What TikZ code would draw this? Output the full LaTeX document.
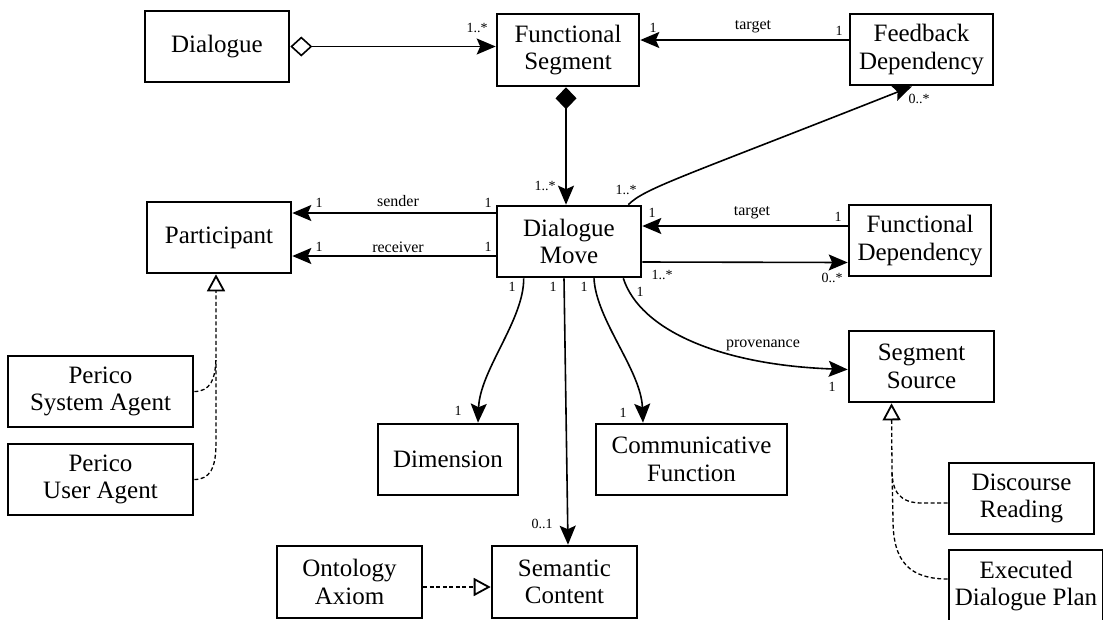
\documentclass[tikz,border=0pt]{standalone}
\usepackage{fontspec}
\setmainfont{Liberation Serif}
\usetikzlibrary{arrows.meta,calc}

\newcommand*\clsfont{\fontsize{25}{27.5}\selectfont}
\newcommand*\rolefont{\fontsize{16}{17}\selectfont}
\newcommand*\multfont{\fontsize{14}{15}\selectfont}

\tikzset{
  cls/.style={draw, line width=2.6pt, fill=white, inner sep=0pt, align=center,
    font=\clsfont, minimum width=144pt, minimum height=71pt},
  tip/.style={-{Stealth[length=19pt,width=16pt,inset=3.5pt]}},
  assoc/.style={line width=1.6pt, tip},
  gen/.style={line width=1.3pt, dash pattern=on 4pt off 2.5pt},
  genhead/.style={gen, -{Triangle[open,length=17pt,width=18pt,line width=1.8pt]}},
  role/.style={font=\rolefont, inner sep=0pt},
  mult/.style={font=\multfont, inner sep=0pt},
}

\begin{document}
\begin{tikzpicture}[x=1pt,y=-1pt]
\useasboundingbox (0,0) rectangle (1103,619);

% classes
\node[cls] (Dia) at (217,46.5) {Dialogue};
\node[cls, minimum width=142pt, minimum height=72pt] (FS) at (568,50) {Functional\\Segment};
\node[cls, minimum width=143pt] (FB) at (921.5,49.5) {Feedback\\Dependency};
\node[cls] (Pa) at (219,237.5) {Participant};
\node[cls] (DM) at (569,241.5) {Dialogue\\Move};
\node[cls, minimum width=142pt] (FD) at (920,240.5) {Functional\\Dependency};
\node[cls, minimum width=145pt] (SS) at (921.5,366.5) {Segment\\Source};
\node[cls, minimum width=145pt] (DR) at (1021.5,498.5) {Discourse\\Reading};
\node[cls, minimum width=154pt, minimum height=72pt] (EP) at (1026,586) {Executed\\Dialogue Plan};
\node[cls, minimum width=185pt] (PSA) at (100.5,391.5) {Perico\\System Agent};
\node[cls, minimum width=185pt] (PUA) at (100.5,479.5) {Perico\\User Agent};
\node[cls, minimum width=140pt] (Dim) at (448,459.5) {Dimension};
\node[cls, minimum width=191pt] (CF) at (691.5,459.5) {Communicative\\Function};
\node[cls, minimum width=145pt, minimum height=72pt] (OA) at (349.5,582) {Ontology\\Axiom};
\node[cls, minimum width=145pt, minimum height=72pt] (SC) at (564.5,582) {Semantic\\Content};

% aggregation and composition
\draw[line width=1.6pt, {Diamond[open,length=22pt,width=20pt,line width=1.6pt]}-{Stealth[length=19pt,width=16pt,inset=3.5pt]}]
  (Dia.east) -- (Dia.east -| FS.west);
\draw[line width=1.6pt, {Diamond[length=22pt,width=21pt]}-{Stealth[length=19pt,width=16pt,inset=3.5pt]}]
  ([xshift=-2pt]FS.south) -- ([xshift=-2pt]FS.south |- DM.north);

% associations
\draw[assoc] ([yshift=9.5pt]FB.west) -- ([yshift=9.5pt]FB.west -| FS.east);
\draw[assoc] ([xshift=-14pt]DM.north east) .. controls (645,188) and (680,178) .. ([xshift=-9.5pt]FB.south);
\draw[assoc] ([yshift=28.5pt]DM.west) -- ([yshift=28.5pt]DM.west -| Pa.east);
\draw[assoc] ([yshift=-14.5pt]DM.west) -- ([yshift=-14.5pt]DM.west -| Pa.east);
\draw[assoc] ([yshift=14.5pt]FD.west) -- ([yshift=14.5pt]FD.west -| DM.east);
\draw[assoc] ([yshift=-20.5pt]DM.east) -- ([yshift=-22pt]FD.west);
\draw[assoc] ([xshift=28pt]DM.south west) .. controls (524,320) and (480,370) .. ([xshift=30pt]Dim.north);
\draw[assoc] ([xshift=-5pt]DM.south) -- ([xshift=3.5pt]SC.north);
\draw[assoc] ([xshift=25pt]DM.south) .. controls (596,320) and (641,370) .. ([xshift=-48.5pt]CF.north);
\draw[assoc] ([xshift=-19pt]DM.south east) .. controls (640,330) and (720,365) .. ([yshift=-3pt]SS.west);

% generalisations
\coordinate (pgen) at ([xshift=-3pt]Pa.south);
\draw[genhead] (PSA.east) .. controls (210,391.5) and (216,380) .. (216,355) -- (pgen);
\draw[gen] (PUA.east) .. controls (210,479.5) and (216,468) .. (216,443) -- (216,360);
\coordinate (sgen) at ([xshift=-30pt]SS.south);
\draw[genhead] ([yshift=-4.5pt]DR.west) -- (922,503) .. controls (900,503) and (892,492) .. (892,470) -- (sgen);
\draw[gen] (EP.west |- 0,579) .. controls (910,579) and (893,562) .. (893,520) -- (892,470);
\draw[genhead] ([yshift=-5pt]OA.east) -- ([yshift=-5pt]SC.west);

% role names
\node[role] (r1) at (753,27) {target};
\node[role] (r2) at (398,201) {sender};
\node[role] (r3) at (398,247) {receiver};
\node[role] (r4) at (752,213) {target};
\node[role] (r5) at (763,345) {provenance};

% multiplicities
\node[mult] (m1) at (477,28) {1..*};
\node[mult] (m2) at (653,28) {1};
\node[mult] (m3) at (839,31) {1};
\node[mult] (m4) at (919,99) {0..*};
\node[mult] (m5) at (545,186) {1..*};
\node[mult] (m6) at (626,190) {1..*};
\node[mult] (m7) at (319,203) {1};
\node[mult] (m8) at (488,203) {1};
\node[mult] (m9) at (319,247) {1};
\node[mult] (m10) at (488,247) {1};
\node[mult] (m11) at (652,213) {1};
\node[mult] (m12) at (838,217) {1};
\node[mult] (m13) at (662,275) {1..*};
\node[mult] (m14) at (832,278) {0..*};
\node[mult] (m15) at (512,287) {1};
\node[mult] (m16) at (553,287) {1};
\node[mult] (m17) at (584,287) {1};
\node[mult] (m18) at (640,292) {1};
\node[mult] (m19) at (832,387) {1};
\node[mult] (m20) at (623,413) {1};
\node[mult] (m21) at (458,411) {1};
\node[mult] (m22) at (542,524) {0..1};
\end{tikzpicture}
\end{document}
